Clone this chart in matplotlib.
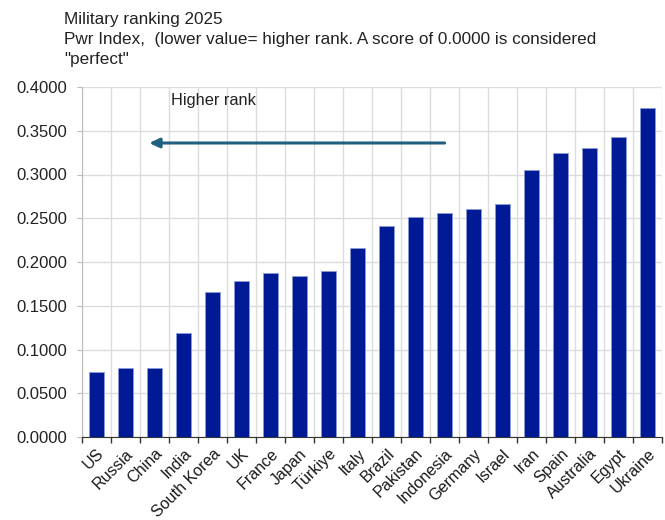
import matplotlib
matplotlib.use("Agg")
import matplotlib.pyplot as plt
import numpy as np

countries = ["US", "Russia", "China", "India", "South Korea", "UK", "France", "Japan",
             "Türkiye", "Italy", "Brazil", "Pakistan", "Indonesia", "Germany", "Israel",
             "Iran", "Spain", "Australia", "Egypt", "Ukraine"]
pwr_index = [0.0744, 0.0788, 0.0788, 0.1184, 0.1656, 0.1785, 0.1878, 0.1839,
             0.1902, 0.2164, 0.2415, 0.2513, 0.2557, 0.2601, 0.2661,
             0.3048, 0.3242, 0.3298, 0.3427, 0.3755]
y_ticks = [0.0, 0.05, 0.10, 0.15, 0.20, 0.25, 0.30, 0.35, 0.40]

plt.rcParams['font.family'] = ['Liberation Sans', 'DejaVu Sans']

fig = plt.figure(figsize=(6.65, 5.2), dpi=100)
ax = fig.add_axes([82 / 665, 1 - 437 / 520, 580 / 665, 350 / 520])

x = np.arange(len(countries))
ax.bar(x, pwr_index, width=0.5, color="#001A96", edgecolor="#8C9BD8", linewidth=0.6, zorder=3)

ax.set_xlim(-0.5, len(countries) - 0.5)
ax.set_ylim(0, 0.4)
ax.set_yticks(y_ticks)
ax.set_yticklabels([f"{v:.4f}" for v in y_ticks], fontsize=12, color="#222222")

# category boundaries carry the vertical grid and the tick marks
bounds = np.arange(len(countries) + 1) - 0.5
ax.set_xticks(bounds, minor=False)
ax.set_xticklabels([])
ax.set_xticks(x, minor=True)
ax.set_xticklabels(countries, minor=True, rotation=45, ha="right",
                   rotation_mode="anchor", fontsize=11.6, color="#1A1A1A")
ax.tick_params(axis="x", which="minor", length=0, pad=6.5)
ax.tick_params(axis="x", which="major", length=4.5, width=1, color="#333333", direction="out")
ax.tick_params(axis="y", length=3.6, color="#BBBBBB", pad=7)

ax.grid(True, which="major", axis="both", color="#DCDCDC", linewidth=1, zorder=0)
ax.set_axisbelow(True)

for side in ["top", "right"]:
    ax.spines[side].set_visible(False)
ax.spines["left"].set_color("#BBBBBB")
ax.spines["bottom"].set_color("#333333")

ax.annotate("", xy=(1.72, 0.336), xytext=(12.1, 0.336),
            arrowprops=dict(arrowstyle="-|>,head_length=0.6,head_width=0.28",
                            color="#1F5F80", lw=2.2), zorder=4)
ax.text(2.57, 0.384, "Higher rank", fontsize=11.8, color="#222222", va="center", ha="left")

fig.text(64 / 665, 1 - 12 / 520,
         "Military ranking 2025\nPwr Index,  (lower value= higher rank. A score of 0.0000 is considered\n\"perfect\"",
         fontsize=12.3, color="#222222", va="top", ha="left", linespacing=1.42)

fig.savefig("out.png", dpi=100)
